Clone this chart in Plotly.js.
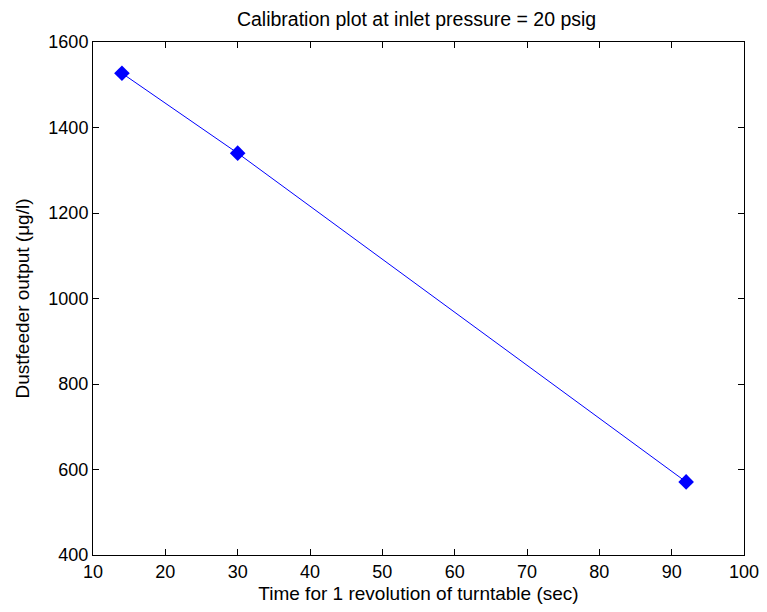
<!DOCTYPE html>
<html><head><meta charset="utf-8">
<script src="https://cdn.plot.ly/plotly-3.0.1.min.js"></script>
<style>body{margin:0;background:#fff}#c{width:767px;height:612px}</style>
</head><body><div id="c"></div>
<script>
var timeSec = [14, 30, 92];
var output = [1527, 1340, 571];
var xTicks = [10,20,30,40,50,60,70,80,90,100];
var yTicks = [400,600,800,1000,1200,1400,1600];
var fam = 'Liberation Sans, Arial, sans-serif';
var tickFont = {family:fam, size:18, color:'#000'};
var labFont = {family:fam, size:19, color:'#000'};
var ax = {showgrid:false, zeroline:false, showline:true, mirror:'ticks', linecolor:'#000', linewidth:1,
  ticks:'inside', ticklen:6, tickcolor:'#000', tickfont:tickFont};
Plotly.newPlot('c', [{
  x: timeSec, y: output, type:'scatter', mode:'lines+markers',
  line:{color:'#0000ff', width:1},
  marker:{symbol:'diamond', size:12, color:'#0000ff'}
}], {
  width:767, height:612,
  margin:{l:93, r:23, t:42, b:57},
  paper_bgcolor:'#fff', plot_bgcolor:'#fff',
  font: tickFont,
  showlegend:false,
  title:{text:'Calibration plot at inlet pressure = 20 psig', font:{family:fam, size:19.5, color:'#000'}, x:0.497, xanchor:'center', y:1-19/612, yanchor:'middle', xref:'paper'},
  xaxis: Object.assign({}, ax, {range:[10,100], tickvals:xTicks, title:{text:'Time for 1 revolution of turntable (sec)', font:labFont, standoff:6}}),
  yaxis: Object.assign({}, ax, {range:[400,1600], tickvals:yTicks, title:{text:'Dustfeeder output (μg/l)', font:labFont, standoff:13}})
}, {staticPlot:true});
</script></body></html>
